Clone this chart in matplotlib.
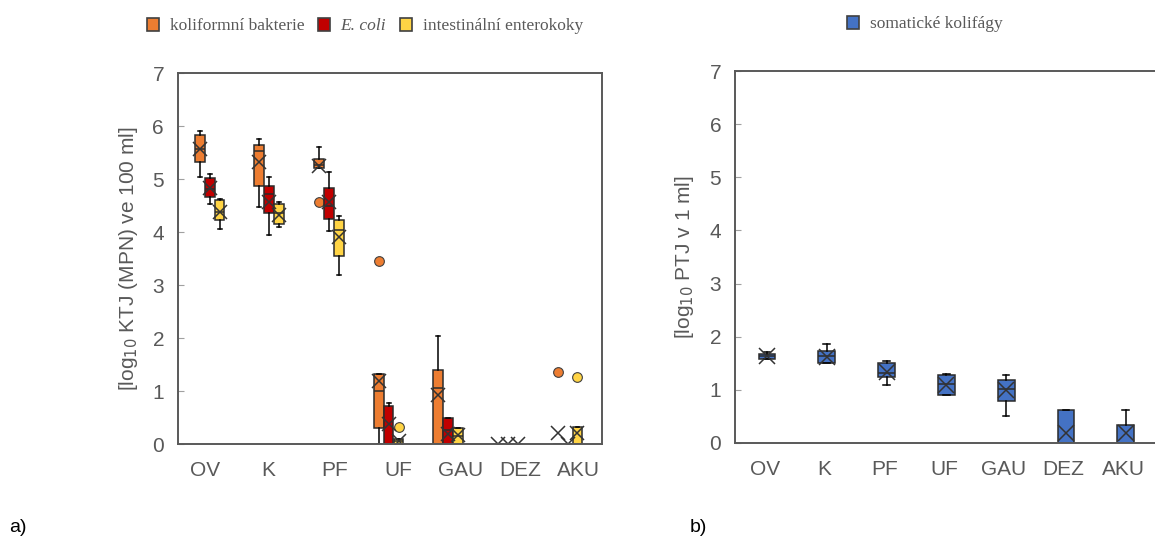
import matplotlib
matplotlib.use("Agg")
import matplotlib.pyplot as plt
import matplotlib.patches as mpatches
import numpy as np

# categories
groups = ["OV", "K", "PF", "UF", "GAU", "DEZ", "AKU"]

# koliformni bakterie (log10 units)
kb_lo = [5.03, 4.48, 5.20, 0.00, 0.00, 0.0, 0.0]
kb_q1 = [5.32, 4.87, 5.20, 0.30, 0.00, 0.0, 0.0]
kb_med = [5.57, 5.53, 5.26, 1.00, 1.05, 0.0, 0.0]
kb_q3 = [5.83, 5.64, 5.37, 1.32, 1.40, 0.0, 0.0]
kb_hi = [5.91, 5.75, 5.61, 1.32, 2.03, 0.0, 0.0]
kb_mean = [5.56, 5.32, 5.24, 1.19, 0.93, 0.0, 0.20]
kb_out = [[], [], [4.57], [3.46], [], [], [1.35]]

# E. coli
ec_lo = [4.53, 3.95, 4.01, 0.00, 0.00, 0.0, 0.0]
ec_q1 = [4.66, 4.35, 4.24, 0.00, 0.00, 0.0, 0.0]
ec_med = [4.82, 4.71, 4.49, 0.00, 0.27, 0.0, 0.0]
ec_q3 = [5.01, 4.86, 4.84, 0.71, 0.50, 0.0, 0.0]
ec_hi = [5.09, 5.04, 5.13, 0.78, 0.50, 0.0, 0.0]
ec_mean = [4.83, 4.57, 4.57, 0.38, 0.18, 0.0, 0.0]
ec_out = [[], [], [], [], [], [], []]

# intestinalni enterokoky
ie_lo = [4.05, 4.09, 3.18, 0.00, 0.00, 0.0, 0.00]
ie_q1 = [4.22, 4.16, 3.54, 0.00, 0.00, 0.0, 0.00]
ie_med = [4.38, 4.35, 4.03, 0.05, 0.15, 0.0, 0.00]
ie_q3 = [4.61, 4.52, 4.23, 0.09, 0.30, 0.0, 0.32]
ie_hi = [4.62, 4.57, 4.30, 0.09, 0.30, 0.0, 0.32]
ie_mean = [4.38, 4.33, 3.90, 0.05, 0.17, 0.0, 0.21]
ie_out = [[], [], [], [0.32], [], [], [1.27]]

# somaticke kolifagy
sk_lo = [1.58, 1.51, 1.10, 0.91, 0.50, 0.0, 0.0]
sk_q1 = [1.58, 1.51, 1.25, 0.91, 0.79, 0.0, 0.0]
sk_med = [1.63, 1.63, 1.31, 1.11, 1.02, 0.0, 0.0]
sk_q3 = [1.67, 1.73, 1.50, 1.27, 1.19, 0.62, 0.33]
sk_hi = [1.72, 1.87, 1.54, 1.29, 1.27, 0.62, 0.62]
sk_mean = [1.63, 1.62, 1.33, 1.10, 0.99, 0.18, 0.18]
sk_out = [[], [], [], [], [], [], []]

c_kb = "#ED7D31"
c_ec = "#C00000"
c_ie = "#FFD445"
c_sk = "#4472C4"
grey = "#595959"
edge = "#2b2b2b"

plt.rcParams["font.family"] = ["Liberation Sans", "DejaVu Sans"]


def make_stats(lo, q1, med, q3, hi, mean, out):
    return [dict(whislo=a, q1=b, med=c, q3=d, whishi=e, mean=f, fliers=g)
            for a, b, c, d, e, f, g in zip(lo, q1, med, q3, hi, mean, out)]


def draw(ax, stats, pos, width, color, msize):
    ax.bxp(stats, positions=pos, widths=width, capwidths=width * 0.4,
           patch_artist=True, showmeans=True, showfliers=True,
           boxprops=dict(facecolor=color, edgecolor=edge, linewidth=1.1),
           medianprops=dict(color=edge, linewidth=1.1),
           whiskerprops=dict(color="black", linewidth=1.1),
           capprops=dict(color="black", linewidth=1.1),
           meanprops=dict(marker="x", markeredgecolor="#333333",
                          markersize=msize, markeredgewidth=1.1),
           flierprops=dict(marker="o", markerfacecolor=color,
                           markeredgecolor="#404040", markersize=7,
                           markeredgewidth=0.8))


def style(ax):
    ax.set_ylim(0, 7)
    ax.set_yticks(range(8))
    for s in ax.spines.values():
        s.set_color(grey)
        s.set_linewidth(1.4)
    ax.tick_params(axis="y", direction="in", length=4, color="#a0a0a0",
                   labelsize=15, labelcolor=grey, pad=10)
    ax.tick_params(axis="x", length=0, labelsize=15, labelcolor=grey,
                   pad=12)


fig = plt.figure(figsize=(11.55, 5.43), dpi=100)

# a) bacteria
ax1 = fig.add_axes([0.1541, 0.1823, 0.3667, 0.6832])
x = np.arange(1, len(groups) + 1)
off = 0.167
bw = 0.165
draw(ax1, make_stats(kb_lo, kb_q1, kb_med, kb_q3, kb_hi, kb_mean, kb_out),
     x - off, bw, c_kb, 10)
draw(ax1, make_stats(ec_lo, ec_q1, ec_med, ec_q3, ec_hi, ec_mean, ec_out),
     x, bw, c_ec, 10)
draw(ax1, make_stats(ie_lo, ie_q1, ie_med, ie_q3, ie_hi, ie_mean, ie_out),
     x + off, bw, c_ie, 10)
style(ax1)
ax1.set_xlim(0.47, 7.57)
# category labels sit a bit off the box groups in the original
ax1.set_xticks([0.92, 1.98, 3.09, 4.16, 5.20, 6.21, 7.18])
ax1.set_xticklabels(groups)
ax1.set_ylabel("[log$_{10}$ KTJ (MPN) ve 100 ml]", fontsize=15, color=grey)
ax1.yaxis.set_label_coords(-0.09, 0.5)

h1 = [mpatches.Patch(facecolor=c, edgecolor="#404040", linewidth=1.2)
      for c in (c_kb, c_ec, c_ie)]
leg1 = fig.legend(h1, ["koliformní bakterie", "E. coli",
                       "intestinální enterokoky"],
                  loc="center", bbox_to_anchor=(365 / 1155, 1 - 26 / 543),
                  ncol=3, frameon=False, handlelength=0.7, handleheight=0.8,
                  handletextpad=0.6, columnspacing=0.8,
                  prop=dict(family="Liberation Serif", size=12.5))
for t in leg1.get_texts():
    t.set_color(grey)
leg1.get_texts()[1].set_style("italic")

# b) phages
ax2 = fig.add_axes([0.6364, 0.1842, 0.368, 0.685])
draw(ax2, make_stats(sk_lo, sk_q1, sk_med, sk_q3, sk_hi, sk_mean, sk_out),
     x, 0.28, c_sk, 12)
style(ax2)
ax2.set_xlim(0.465, 7.575)
ax2.set_xticks(x - 0.04)
ax2.set_xticklabels(groups)
ax2.set_ylabel("[log$_{10}$ PTJ v 1 ml]", fontsize=15, color=grey)
ax2.yaxis.set_label_coords(-0.092, 0.5)

h2 = [mpatches.Patch(facecolor=c_sk, edgecolor="#404040", linewidth=1.2)]
leg2 = fig.legend(h2, ["somatické kolifágy"], loc="center",
                  bbox_to_anchor=(925 / 1155, 1 - 24 / 543), frameon=False,
                  handlelength=0.7, handleheight=0.8, handletextpad=0.6,
                  prop=dict(family="Liberation Serif", size=12.5))
for t in leg2.get_texts():
    t.set_color(grey)

fig.text(0.008, 0.02, "a)", fontsize=14, color="black")
fig.text(0.597, 0.02, "b)", fontsize=14, color="black")

fig.savefig("out.png", dpi=100)
